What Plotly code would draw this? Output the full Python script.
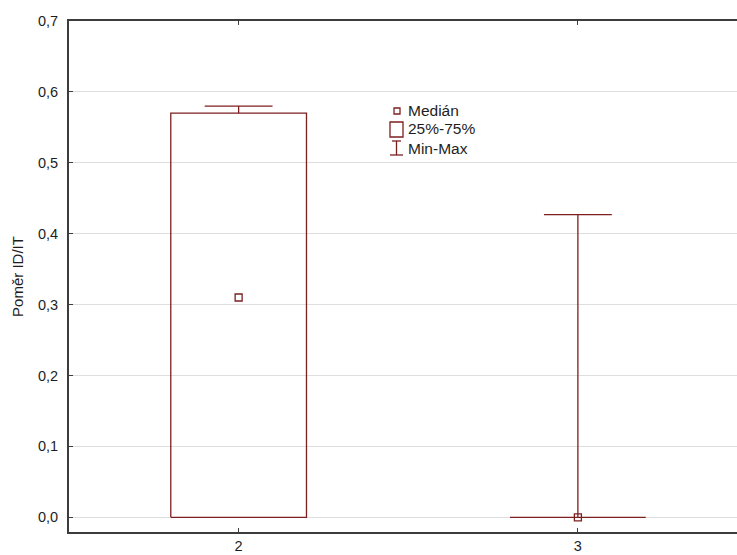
import plotly.graph_objects as go

# ---- data ----
categories = [2, 3]
minimum = [0.0, 0.0]
q1 = [0.0, 0.0]
median = [0.31, 0.0]
q3 = [0.57, 0.0]
maximum = [0.58, 0.427]
y_title = "Poměr ID/IT"
legend_labels = ["Medián", "25%-75%", "Min-Max"]

# ---- style ----
COL = "#7d1f1f"
BOX_HALF = 0.2
CAP_HALF = 0.1
W, H = 737, 555
ML, MR, MT, MB = 69, 0, 21, 23
FONT = "Liberation Sans, Arial, sans-serif"

box_x, box_y = [], []
wh_x, wh_y = [], []
for c, lo, a, b, hi in zip(categories, minimum, q1, q3, maximum):
    box_x += [c - BOX_HALF, c + BOX_HALF, c + BOX_HALF, c - BOX_HALF, c - BOX_HALF, None]
    box_y += [a, a, b, b, a, None]
    # upper whisker + cap
    wh_x += [c, c, None, c - CAP_HALF, c + CAP_HALF, None]
    wh_y += [b, hi, None, hi, hi, None]
    # lower whisker + cap (only if min below q1)
    if lo < a:
        wh_x += [c, c, None, c - CAP_HALF, c + CAP_HALF, None]
        wh_y += [a, lo, None, lo, lo, None]

fig = go.Figure()
fig.add_trace(go.Scatter(x=box_x, y=box_y, mode="lines",
                         line=dict(color=COL, width=1.3), hoverinfo="skip"))
fig.add_trace(go.Scatter(x=wh_x, y=wh_y, mode="lines",
                         line=dict(color=COL, width=1.3), hoverinfo="skip"))
fig.add_trace(go.Scatter(x=categories, y=median, mode="markers",
                         marker=dict(symbol="square-open", size=7,
                                     color=COL, line=dict(color=COL, width=1.3))))

# ---- legend drawn manually (pixel -> paper) ----
pw = W - ML - MR
ph = H - MT - MB
def px(x):
    return (x - ML) / pw
def py(y):
    return (H - MB - y) / ph

shapes = [
    # median small square
    dict(type="rect", xref="paper", yref="paper",
         x0=px(394), x1=px(400), y0=py(114), y1=py(108),
         line=dict(color=COL, width=1.3)),
    # 25-75 rect
    dict(type="rect", xref="paper", yref="paper",
         x0=px(390), x1=px(403), y0=py(137), y1=py(122),
         line=dict(color=COL, width=1.3)),
    # min-max symbol
    dict(type="line", xref="paper", yref="paper",
         x0=px(396.5), x1=px(396.5), y0=py(141), y1=py(155),
         line=dict(color=COL, width=1.3)),
    dict(type="line", xref="paper", yref="paper",
         x0=px(392), x1=px(401), y0=py(141), y1=py(141),
         line=dict(color=COL, width=1.3)),
    dict(type="line", xref="paper", yref="paper",
         x0=px(390), x1=px(403), y0=py(155), y1=py(155),
         line=dict(color=COL, width=1.3)),
]
annotations = []
for lab, yy in zip(legend_labels, [110, 128.5, 148]):
    annotations.append(dict(xref="paper", yref="paper", x=px(406), y=py(yy),
                            text=lab, showarrow=False, xanchor="left", yanchor="middle",
                            font=dict(family=FONT, size=15.5, color="#1e1e1e")))

fig.update_layout(
    width=W, height=H,
    margin=dict(l=ML, r=MR, t=MT, b=MB, pad=0),
    paper_bgcolor="white", plot_bgcolor="white",
    showlegend=False,
    separators=", ",
    font=dict(family=FONT, size=14.5, color="#1e1e1e"),
    shapes=shapes, annotations=annotations,
)
fig.update_xaxes(range=[1.5, 3.469], tickmode="array", tickvals=categories,
                 ticktext=[str(c) for c in categories],
                 showgrid=False, zeroline=False,
                 showline=True, linecolor="#3c3c3c", linewidth=1.8, mirror="ticks",
                 ticks="inside", ticklen=4, tickcolor="#3c3c3c", tickwidth=1)
fig.update_yaxes(range=[-0.0207, 0.7], tickmode="array",
                 tickvals=[0, 0.1, 0.2, 0.3, 0.4, 0.5, 0.6, 0.7],
                 tickformat=".1f",
                 showgrid=True, gridcolor="#dedede", gridwidth=1, zeroline=False,
                 showline=True, linecolor="#3c3c3c", linewidth=1.8,
                 ticks="inside", ticklen=4, tickcolor="#3c3c3c", tickwidth=1,
                 ticklabelstandoff=6,
                 title=dict(text=y_title, standoff=11, font=dict(size=15)))

fig.write_html("out.html")
